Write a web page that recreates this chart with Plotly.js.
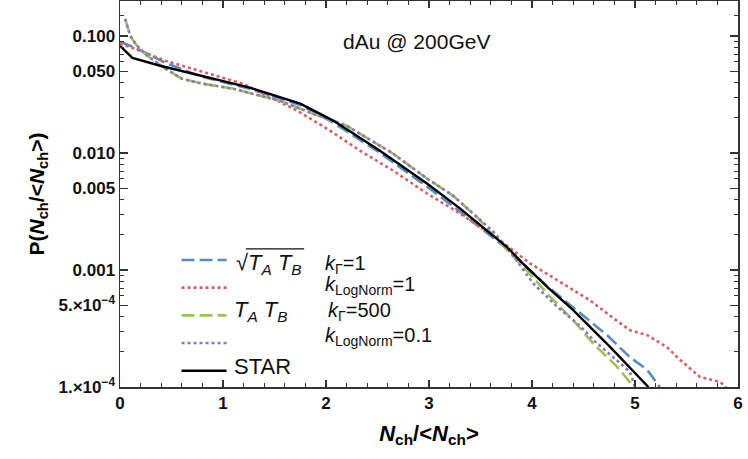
<!DOCTYPE html>
<html>
<head>
<meta charset="utf-8">
<script src="https://cdn.plot.ly/plotly-3.0.1.min.js"></script>
<style>html,body{margin:0;padding:0;background:#fff;}#chart{width:748px;height:459px;}</style>
</head>
<body>
<div id="chart"></div>
<script>
// ---- data ----
const starX = [0, 0.12, 0.39, 0.78, 1.26, 1.75, 2.07, 2.52, 2.98, 3.30, 3.76, 3.91, 4.15, 4.40, 4.76, 5.13];
const starP = [0.0824, 0.0650, 0.0556, 0.0457, 0.0361, 0.0264, 0.0189, 0.0105, 0.00548, 0.00336, 0.00156, 0.00114, 0.000713, 0.000453, 0.000219, 0.0001];

const sqrtGammaX = [0, 0.15, 0.27, 0.44, 0.78, 1.26, 1.75, 2.07, 2.52, 2.98, 3.30, 3.76, 4.15, 4.47, 4.73, 4.95, 5.12, 5.24];
const sqrtGammaP = [0.0891, 0.0792, 0.0703, 0.0590, 0.0452, 0.0353, 0.0257, 0.0182, 0.01007, 0.00516, 0.00316, 0.00151, 0.000724, 0.000428, 0.000277, 0.000180, 0.000140, 0.0001];

const sqrtLogX = [0, 0.12, 0.44, 0.76, 1.19, 1.39, 1.72, 2.04, 2.33, 2.65, 2.98, 3.30, 3.69, 3.98, 4.30, 4.56, 4.79, 4.95, 5.12, 5.31, 5.44, 5.63, 5.83, 5.9];
const sqrtLogP = [0.086, 0.0792, 0.0614, 0.0504, 0.0391, 0.0321, 0.0230, 0.0155, 0.01047, 0.00708, 0.00451, 0.00304, 0.00179, 0.00114, 0.000771, 0.000552, 0.000387, 0.000306, 0.000277, 0.000219, 0.000170, 0.000122, 0.000110, 0.0000955];

const prodGammaX = [0.05, 0.10, 0.15, 0.24, 0.44, 0.60, 0.80, 1.10, 1.36, 1.55, 1.87, 2.20, 2.65, 2.98, 3.23, 3.47, 3.62, 3.76, 3.95, 4.18, 4.40, 4.59, 4.83, 4.95, 4.98];
const prodGammaP = [0.140, 0.100, 0.0857, 0.0703, 0.0525, 0.0431, 0.0391, 0.0354, 0.0308, 0.0280, 0.0217, 0.0171, 0.00989, 0.00605, 0.00434, 0.00281, 0.00200, 0.00147, 0.00099, 0.000585, 0.000372, 0.000237, 0.000148, 0.000110, 0.000095];

const prodLogX = [0.05, 0.10, 0.15, 0.24, 0.44, 0.60, 0.80, 1.10, 1.36, 1.55, 1.87, 2.20, 2.65, 2.98, 3.23, 3.47, 3.64, 3.85, 4.01, 4.25, 4.47, 4.60, 4.80, 4.95, 5.01];
const prodLogP = [0.140, 0.100, 0.0857, 0.0703, 0.0525, 0.0431, 0.0391, 0.0354, 0.0308, 0.0280, 0.0217, 0.0171, 0.00989, 0.00605, 0.00434, 0.00281, 0.00206, 0.00121, 0.00077, 0.00048, 0.00033, 0.00025, 0.000175, 0.000135, 0.000095];

const yTickVals = [0.1, 0.05, 0.01, 0.005, 0.001, 0.0005, 0.0001];
const yTickText = ['0.100', '0.050', '0.010', '0.005', '0.001', '5.\u00d710<sup>\u22124</sup>', '1.\u00d710<sup>\u22124</sup>'];
const yMinorVals = [0.15, 0.09, 0.08, 0.07, 0.06, 0.04, 0.03, 0.02, 0.009, 0.008, 0.007, 0.006, 0.004, 0.003, 0.002, 0.0009, 0.0008, 0.0007, 0.0006, 0.0004, 0.0003, 0.0002];
const xTickVals = [0, 1, 2, 3, 4, 5, 6];

const seriesNames = ['sqrt(TA TB) kGamma=1', 'sqrt(TA TB) kLogNorm=1', 'TA TB kGamma=500', 'TA TB kLogNorm=0.1', 'STAR'];
const modelLabels = ['\u221a<i>T<sub>A</sub> T<sub>B</sub></i>', '', '<i>T<sub>A</sub> T<sub>B</sub></i>', '', 'STAR'];
const paramLabels = ['<i>k</i><sub>\u0393</sub>=1', '<i>k</i><sub>LogNorm</sub>=1', '<i>k</i><sub>\u0393</sub>=500', '<i>k</i><sub>LogNorm</sub>=0.1', ''];

const styles = [
  {color: '#5a8ac6', width: 2.6, dash: '13px,5px'},
  {color: '#d95f5f', width: 2.6, dash: 'dot'},
  {color: '#9cc35a', width: 2.6, dash: '13px,5px'},
  {color: '#8c78bf', width: 2.6, dash: 'dot'},
  {color: '#000000', width: 2.4, dash: 'solid'}
];
const xs = [sqrtGammaX, sqrtLogX, prodGammaX, prodLogX, starX];
const ys = [sqrtGammaP, sqrtLogP, prodGammaP, prodLogP, starP];

const traces = xs.map((x, i) => ({
  x: x, y: ys[i], mode: 'lines', name: '\u00a0', meta: seriesNames[i], line: styles[i],
  hovertemplate: seriesNames[i] + '<extra></extra>'
}));

// legend text rows (placed beside the legend's own line samples)
const rowY = [0.318, 0.262, 0.196, 0.130, 0.053];
const modelFont = {size: 22, family: 'Liberation Sans, Arial, sans-serif', color: '#111'};
const paramFont = {size: 20, family: 'Liberation Sans, Arial, sans-serif', color: '#111'};
const annotations = [
  {text: 'dAu @ 200GeV', xref: 'paper', yref: 'paper', x: 0.479, y: 0.894, xanchor: 'center', yanchor: 'middle',
   showarrow: false, font: {size: 21, family: 'Liberation Sans, Arial, sans-serif', color: '#111'}}
];
const modelX = [0.184, 0.184, 0.181, 0.184, 0.181];
const paramX = [0.329, 0.329, 0.334, 0.329, 0.329];
for (let i = 0; i < 5; i++) {
  if (modelLabels[i]) annotations.push({text: modelLabels[i], xref: 'paper', yref: 'paper', x: modelX[i], y: rowY[i],
    xanchor: 'left', yanchor: 'middle', showarrow: false, font: modelFont});
  if (paramLabels[i]) annotations.push({text: paramLabels[i], xref: 'paper', yref: 'paper', x: paramX[i], y: rowY[i],
    xanchor: 'left', yanchor: 'middle', showarrow: false, font: paramFont});
}

const layout = {
  width: 748, height: 459,
  margin: {l: 120, r: 10, t: 1, b: 72},
  paper_bgcolor: '#fff', plot_bgcolor: '#fff',
  font: {family: 'Liberation Sans, Arial, sans-serif', color: '#000'},
  showlegend: true,
  legend: {x: 0.0915, y: 0.378, xanchor: 'left', yanchor: 'top', bgcolor: 'rgba(0,0,0,0)',
           font: {size: 19, family: 'Liberation Sans, Arial, sans-serif'}, itemwidth: 45, tracegroupgap: 0},
  xaxis: {
    range: [0, 6], showgrid: false, zeroline: false, showline: true, linecolor: '#333', linewidth: 1.5, mirror: 'ticks',
    ticks: 'inside', ticklen: 7, tickwidth: 1.2, tickcolor: '#333', tickmode: 'array', tickvals: xTickVals,
    ticktext: xTickVals.map(String),
    tickfont: {size: 17, family: 'Liberation Sans, Arial, sans-serif', weight: 'bold', color: '#111'},
    minor: {dtick: 0.2, tick0: 0, ticks: 'inside', ticklen: 4, tickwidth: 1, tickcolor: '#333', showgrid: false},
    title: {text: '<b><i>N</i><sub>ch</sub>/&lt;<i>N</i><sub>ch</sub>&gt;</b>', font: {size: 22}, standoff: 13}
  },
  yaxis: {
    type: 'log', range: [-4, -0.7016], showgrid: false, zeroline: false, showline: true, linecolor: '#333', linewidth: 1.5, mirror: 'ticks',
    ticks: 'inside', ticklen: 8, tickwidth: 1.2, tickcolor: '#333', tickmode: 'array', tickvals: yTickVals, ticktext: yTickText,
    tickfont: {size: 17, family: 'Liberation Sans, Arial, sans-serif', weight: 'bold', color: '#111'},
    minor: {tickmode: 'array', tickvals: yMinorVals, ticks: 'inside', ticklen: 4, tickwidth: 1, tickcolor: '#333', showgrid: false},
    title: {text: '<b>P(<i>N</i><sub>ch</sub>/&lt;<i>N</i><sub>ch</sub>&gt;)</b>', font: {size: 21}, standoff: 8}
  },
  // vinculum of the square-root sign in the legend label
  shapes: [
    {type: 'line', xref: 'paper', yref: 'paper', x0: 0.2035, x1: 0.298, y0: 0.358, y1: 0.358, line: {color: '#111', width: 1.2}}
  ],
  annotations: annotations
};

Plotly.newPlot('chart', traces, layout, {displayModeBar: false, staticPlot: true});
</script>
</body>
</html>
